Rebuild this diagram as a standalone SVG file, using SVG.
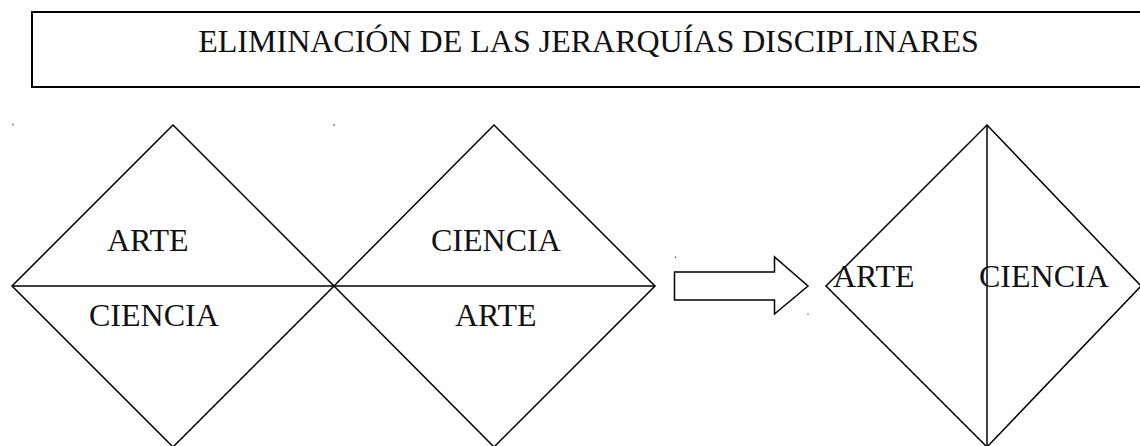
<svg xmlns="http://www.w3.org/2000/svg" width="1140" height="446" viewBox="0 0 1140 446">
<style>
.t{font-family:"Liberation Serif","Times New Roman",serif;font-size:32px;fill:#111}
.s{fill:none;stroke:#000;stroke-width:1.5}
.dot{fill:#444}
</style>
<rect width="1140" height="446" fill="#fff"/>
<g id="title">
<path d="M1142,12 H32 V87 H1142" fill="none" stroke="#000" stroke-width="2"/>
<text class="t" x="588.5" y="52" text-anchor="middle">ELIMINACIÓN DE LAS JERARQUÍAS DISCIPLINARES</text>
</g>
<g id="diamond1">
<polygon class="s" points="173,125 334,286 173,447 12,286"/>
<text class="t" x="107" y="251">ARTE</text>
<text class="t" x="89" y="326">CIENCIA</text>
</g>
<g id="diamond2">
<polygon class="s" points="494,125 655,286 494,447 334,286"/>
<text class="t" x="431" y="251">CIENCIA</text>
<text class="t" x="455" y="326">ARTE</text>
</g>
<g id="divider">
<line class="s" x1="12" y1="286" x2="655" y2="286"/>
</g>
<g id="connectors">
<polygon class="s" stroke-width="1.8" points="674.5,272 774.5,272 774.5,257 808,286 774.5,314 774.5,300 674.5,300"/>
</g>
<g id="diamond3">
<polygon class="s" points="987,125 1141,286 987,447 826,286"/>
<line class="s" x1="987" y1="125" x2="987" y2="447"/>
<text class="t" x="833" y="287">ARTE</text>
<text class="t" x="979" y="287">CIENCIA</text>
</g>
<g id="marks">
<rect class="dot" x="12.5" y="123.5" width="1" height="2"/>
<rect class="dot" x="333.5" y="124" width="1" height="2"/>
<rect class="dot" x="675" y="256.5" width="1" height="1.5"/>
<rect class="dot" x="807.5" y="313.5" width="1" height="1.5"/>
</g>
</svg>
